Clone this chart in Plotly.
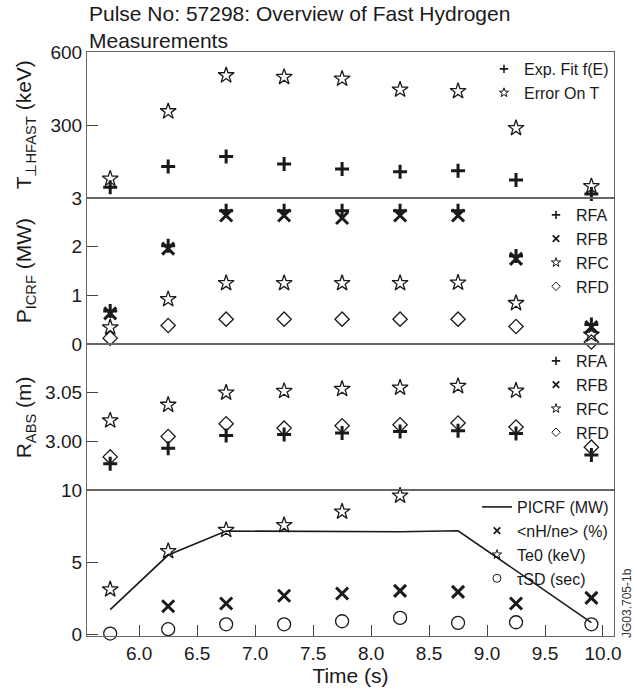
import plotly.graph_objects as go
from plotly.subplots import make_subplots

# ---------------- data ----------------
time = [5.75, 6.25, 6.75, 7.25, 7.75, 8.25, 8.75, 9.25, 9.9]

# Panel 1: T_perp fast hydrogen (keV)
t_fit = [44, 129, 171, 140, 119, 108, 112, 74, 16]
t_err = [79, 356, 504, 497, 490, 445, 439, 287, 48]

# Panel 2: P_ICRF (MW)
p_rfa = [0.68, 2.02, 2.74, 2.74, 2.74, 2.74, 2.74, 1.81, 0.40]
p_rfb = [0.63, 1.96, 2.64, 2.64, 2.59, 2.64, 2.64, 1.75, 0.35]
p_rfc = [0.34, 0.92, 1.25, 1.25, 1.25, 1.25, 1.26, 0.84, 0.19]
p_rfd = [0.12, 0.38, 0.51, 0.51, 0.51, 0.51, 0.51, 0.36, 0.04]

# Panel 3: R_ABS (m)
r_rfa = [2.977, 2.993, 3.006, 3.007, 3.0085, 3.010, 3.011, 3.008, 2.986]
r_rfc = [3.0214, 3.0375, 3.050, 3.0517, 3.0538, 3.0551, 3.0568, 3.052, None]
r_rfd = [2.984, 3.005, 3.018, 3.0136, 3.016, 3.017, 3.0188, 3.0147, 2.994]

# Panel 4
picrf = [1.73, 5.50, 7.16, 7.16, 7.11, 7.11, 7.18, 4.42, 0.83]
nh_ne = [None, 1.96, 2.15, 2.68, 2.84, 3.02, 2.95, 2.15, 2.54]
te0 = [3.12, 5.77, 7.23, 7.57, 8.50, 9.61, None, None, None]
tau_sd = [0.07, 0.37, 0.71, 0.71, 0.92, 1.15, 0.81, 0.85, 0.71]

x_ticks = [6.0, 6.5, 7.0, 7.5, 8.0, 8.5, 9.0, 9.5, 10.0]
y1_ticks = [300, 600]
y2_ticks = [0, 1, 2, 3]
y3_ticks = [3.00, 3.05]
y4_ticks = [0, 5, 10]

# ---------------- styles ----------------
FONT = "Liberation Sans, Arial, Helvetica, sans-serif"
INK = "#1a1a1a"
FRAME = "#666666"

PLUS = dict(symbol="cross-thin-open", size=10, line=dict(width=3, color=INK), color=INK)
XM = dict(symbol="x-thin-open", size=12, line=dict(width=3, color=INK), color=INK)
STAR = dict(symbol="star-open", size=12, line=dict(width=1.3, color=INK), color=INK)
DIAM = dict(symbol="diamond-open", size=11, line=dict(width=1.3, color=INK), color=INK)
CIRC = dict(symbol="circle-open", size=13, line=dict(width=1.3, color=INK), color=INK)

L_PLUS = dict(symbol="cross-thin-open", size=6, line=dict(width=1.6, color=INK), color=INK)
L_XM = dict(symbol="x-thin-open", size=6.5, line=dict(width=1.8, color=INK), color=INK)
L_STAR = dict(symbol="star-open", size=7, line=dict(width=1, color=INK), color=INK)
L_DIAM = dict(symbol="diamond-open", size=6.5, line=dict(width=1, color=INK), color=INK)
L_CIRC = dict(symbol="circle-open", size=8, line=dict(width=1, color=INK), color=INK)

fig = make_subplots(rows=4, cols=1, shared_xaxes=True, vertical_spacing=0)


def data(y, marker, row):
    fig.add_trace(go.Scatter(x=time, y=y, mode="markers", marker=marker,
                             showlegend=False, cliponaxis=False), row=row, col=1)


def leg(name, marker, row, legend, line=None):
    if line is not None:
        tr = go.Scatter(x=[None], y=[None], mode="lines", line=line, name=name,
                        legend=legend, showlegend=True)
    else:
        tr = go.Scatter(x=[None], y=[None], mode="markers", marker=marker, name=name,
                        legend=legend, showlegend=True)
    fig.add_trace(tr, row=row, col=1)


# Panel 1
data(t_err, STAR, 1)
data(t_fit, PLUS, 1)
leg("Exp. Fit f(E)", L_PLUS, 1, "legend")
leg("Error On T", L_STAR, 1, "legend")

# Panel 2
data(p_rfd, DIAM, 2)
data(p_rfc, STAR, 2)
data(p_rfb, XM, 2)
data(p_rfa, PLUS, 2)
leg("RFA", L_PLUS, 2, "legend2")
leg("RFB", L_XM, 2, "legend2")
leg("RFC", L_STAR, 2, "legend2")
leg("RFD", L_DIAM, 2, "legend2")

# Panel 3
data(r_rfd, DIAM, 3)
data(r_rfc, STAR, 3)
data(r_rfa, PLUS, 3)
leg("RFA", L_PLUS, 3, "legend3")
leg("RFB", L_XM, 3, "legend3")
leg("RFC", L_STAR, 3, "legend3")
leg("RFD", L_DIAM, 3, "legend3")

# Panel 4
fig.add_trace(go.Scatter(x=time, y=picrf, mode="lines", line=dict(color=INK, width=1.6),
                         showlegend=False, cliponaxis=False), row=4, col=1)
data(nh_ne, XM, 4)
data(te0, STAR, 4)
data(tau_sd, CIRC, 4)
leg("PICRF (MW)", None, 4, "legend4", line=dict(color=INK, width=1.6))
leg("<nH/ne> (%)", L_XM, 4, "legend4")
leg("Te0 (keV)", L_STAR, 4, "legend4")
leg("τSD (sec)", L_CIRC, 4, "legend4")

# ---------------- axes ----------------
common_x = dict(range=[5.55, 10.095], showline=True, mirror=True, linecolor=FRAME,
                linewidth=1.2, showgrid=False, zeroline=False, automargin=False)
for r in range(1, 5):
    fig.update_xaxes(**common_x, row=r, col=1)
for r in range(1, 4):
    fig.update_xaxes(ticks="", showticklabels=False, row=r, col=1)
fig.update_xaxes(tickvals=x_ticks, tickformat=".1f", ticks="inside", ticklen=11,
                 tickcolor="#444", tickwidth=1.2,
                 tickfont=dict(size=19, color=INK, family=FONT),
                 title=dict(text="Time (s)", font=dict(size=21, color=INK, family=FONT), standoff=4),
                 row=4, col=1)

common_y = dict(showline=True, mirror=True, linecolor=FRAME, linewidth=1.2, showgrid=False,
                zeroline=False, ticks="inside", ticklen=11, tickcolor="#444", tickwidth=1.2,
                tickfont=dict(size=19, color=INK, family=FONT), automargin=False)
fig.update_yaxes(**common_y, range=[0, 600], tickvals=y1_ticks, row=1, col=1)
fig.update_yaxes(**common_y, range=[0, 3], tickvals=y2_ticks, row=2, col=1)
fig.update_yaxes(**common_y, range=[2.95, 3.10], tickvals=y3_ticks, tickformat=".2f", row=3, col=1)
fig.update_yaxes(**common_y, range=[-0.1, 10], tickvals=y4_ticks, row=4, col=1)


# ---------------- legends ----------------
def legend_cfg(ytop):
    return dict(x=1.0, xanchor="right", y=ytop, yanchor="top", bgcolor="rgba(0,0,0,0)",
                font=dict(size=16, color=INK, family=FONT), itemwidth=30,
                tracegroupgap=0, borderwidth=0)


# ---------------- annotations ----------------
ann = []
ann.append(dict(text="Pulse No: 57298: Overview of Fast Hydrogen<br>Measurements",
                xref="paper", yref="paper", x=0, y=1, xanchor="left", yanchor="bottom",
                align="left", showarrow=False, yshift=-2,
                font=dict(size=21, color=INK, family=FONT)))
ytitle_font = dict(size=21, color=INK, family=FONT)
for text, yc in [("T<sub>⊥HFAST</sub> (keV)", 0.875), ("P<sub>ICRF</sub> (MW)", 0.625),
                 ("R<sub>ABS</sub> (m)", 0.375)]:
    ann.append(dict(text=text, xref="paper", yref="paper", x=-0.117, y=yc, xanchor="center",
                    yanchor="middle", textangle=-90, showarrow=False, font=ytitle_font))
ann.append(dict(text="JG03.705-1b", xref="paper", yref="paper", x=1.0247, y=0.0565,
                xanchor="center", yanchor="middle", textangle=-90, showarrow=False,
                font=dict(size=12, color="#333", family=FONT)))

fig.update_layout(
    width=637, height=691,
    margin=dict(l=87, r=23, t=52, b=55, autoexpand=False),
    paper_bgcolor="white", plot_bgcolor="white",
    font=dict(family=FONT, color=INK),
    legend=legend_cfg(1.0), legend2=legend_cfg(0.75), legend3=legend_cfg(0.5),
    legend4=legend_cfg(0.25),
    annotations=ann,
)

fig.write_html("out.html")
